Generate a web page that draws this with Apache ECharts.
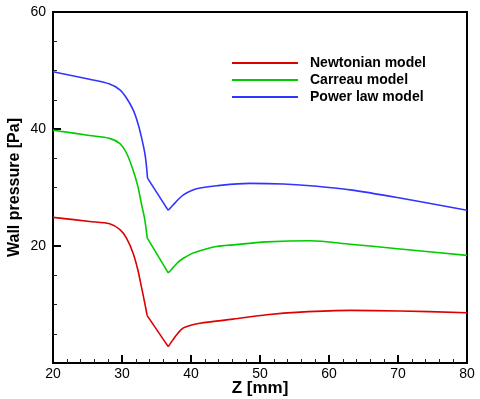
<!DOCTYPE html>
<html>
<head>
<meta charset="utf-8">
<script src="https://cdn.jsdelivr.net/npm/echarts@6/dist/echarts.min.js"></script>
</head>
<body style="margin:0">
<div id="chart" style="width:480px;height:399px;"></div>
<script>
// wall pressure along Z
var newtZ = [20, 25.3, 28.2, 29.7, 30.65, 31.6, 32.3, 32.8, 33.3, 33.65, 36.7, 37.4, 38.1, 38.9, 40.1, 41.3, 46.1, 51, 55.8, 63.1, 70.3, 80];
var newtP = [24.9, 24.2, 23.8, 22.8, 21.35, 18.8, 15.9, 13.1, 10.25, 8.1, 2.8, 4.0, 5.1, 6.0, 6.5, 6.8, 7.5, 8.25, 8.7, 9.0, 8.9, 8.6];

var carrZ = [20, 25.3, 28.2, 29.7, 30.65, 31.6, 32.3, 32.8, 33.3, 33.65, 36.7, 37.4, 38.1, 38.9, 40.1, 41.3, 43.7, 46.1, 51, 57.3, 63.1, 70.3, 80];
var carrP = [39.8, 38.9, 38.4, 37.5, 35.9, 33.0, 30.2, 27.3, 24.5, 21.4, 15.4, 16.3, 17.2, 17.9, 18.7, 19.2, 19.9, 20.2, 20.7, 20.9, 20.3, 19.5, 18.4];

var powZ = [20, 25.3, 28.2, 29.7, 30.65, 31.6, 32.3, 32.8, 33.3, 33.55, 33.7, 36.7, 37.4, 38.1, 38.9, 40.1, 41.3, 43.7, 48.5, 53.4, 57.3, 63.1, 70.3, 80];
var powP = [49.8, 48.5, 47.7, 46.7, 45.3, 43.3, 41.0, 38.7, 35.9, 33.6, 31.6, 26.1, 27.0, 27.9, 28.75, 29.5, 29.9, 30.3, 30.7, 30.6, 30.3, 29.6, 28.2, 26.1];

var names = ['Newtonian model', 'Carreau model', 'Power law model'];
var colors = ['#dd0000', '#00cc00', '#3333ff'];

function pairs(z, p, a, b) {
    var out = [];
    for (var i = a; i <= b; i++) out.push([z[i], p[i]]);
    return out;
}

// each curve: smooth drop, straight run into the sharp minimum, smooth recovery
function curveSeries(z, p, name, color) {
    var m = p.indexOf(Math.min.apply(null, p));
    var parts = [[0, m - 1, 0.3], [m - 1, m, 0], [m, z.length - 1, 0.3]];
    return parts.map(function (pt) {
        return {
            name: name, type: 'line', showSymbol: false,
            smooth: pt[2],
            color: color, lineStyle: {width: 1.6, color: color},
            data: pairs(z, p, pt[0], pt[1])
        };
    });
}

var chart = echarts.init(document.getElementById('chart'));
var font = 'Liberation Sans, Arial, sans-serif';

var option = {
    animation: false,
    grid: {left: 53, right: 13, top: 12, bottom: 36, containLabel: false, outerBoundsMode: 'none',
        show: true, borderColor: '#000', borderWidth: 2},
    legend: {
        orient: 'vertical', left: 232, top: 56, padding: 0, itemGap: 3,
        icon: 'rect', itemWidth: 66, itemHeight: 2,
        textStyle: {fontFamily: font, fontWeight: 'bold', fontSize: 14, color: '#000', padding: [0, 0, 0, 7]},
        data: names
    },
    xAxis: {
        type: 'value', min: 20, max: 80, interval: 10,
        name: 'Z [mm]', nameLocation: 'middle', nameGap: 17, nameMoveOverlap: false,
        nameTextStyle: {fontFamily: font, fontWeight: 'bold', fontSize: 17, color: '#000'},
        axisLine: {lineStyle: {color: '#000', width: 2}},
        axisTick: {show: true, inside: true, length: 8, lineStyle: {color: '#000', width: 2}},
        minorTick: {show: true, splitNumber: 5, length: 4, lineStyle: {color: '#222', width: 1}},
        axisLabel: {fontFamily: font, fontSize: 14, color: '#000', margin: 4},
        splitLine: {show: false}
    },
    yAxis: {
        type: 'value', min: 0, max: 60, interval: 20,
        name: 'Wall pressure [Pa]', nameLocation: 'middle', nameGap: 30, nameMoveOverlap: false,
        nameTextStyle: {fontFamily: font, fontWeight: 'bold', fontSize: 16, color: '#000'},
        axisLine: {lineStyle: {color: '#000', width: 2}},
        axisTick: {show: true, inside: true, length: 8, lineStyle: {color: '#000', width: 2}},
        minorTick: {show: true, splitNumber: 4, length: 4, lineStyle: {color: '#222', width: 1}},
        axisLabel: {fontFamily: font, fontSize: 14, color: '#000', margin: 7,
            formatter: function (v) { return v === 0 ? '' : v; }},
        splitLine: {show: false}
    },
    series: [].concat(
        curveSeries(newtZ, newtP, names[0], colors[0]),
        curveSeries(carrZ, carrP, names[1], colors[1]),
        curveSeries(powZ, powP, names[2], colors[2])
    )
};
chart.setOption(option);
</script>
</body>
</html>
